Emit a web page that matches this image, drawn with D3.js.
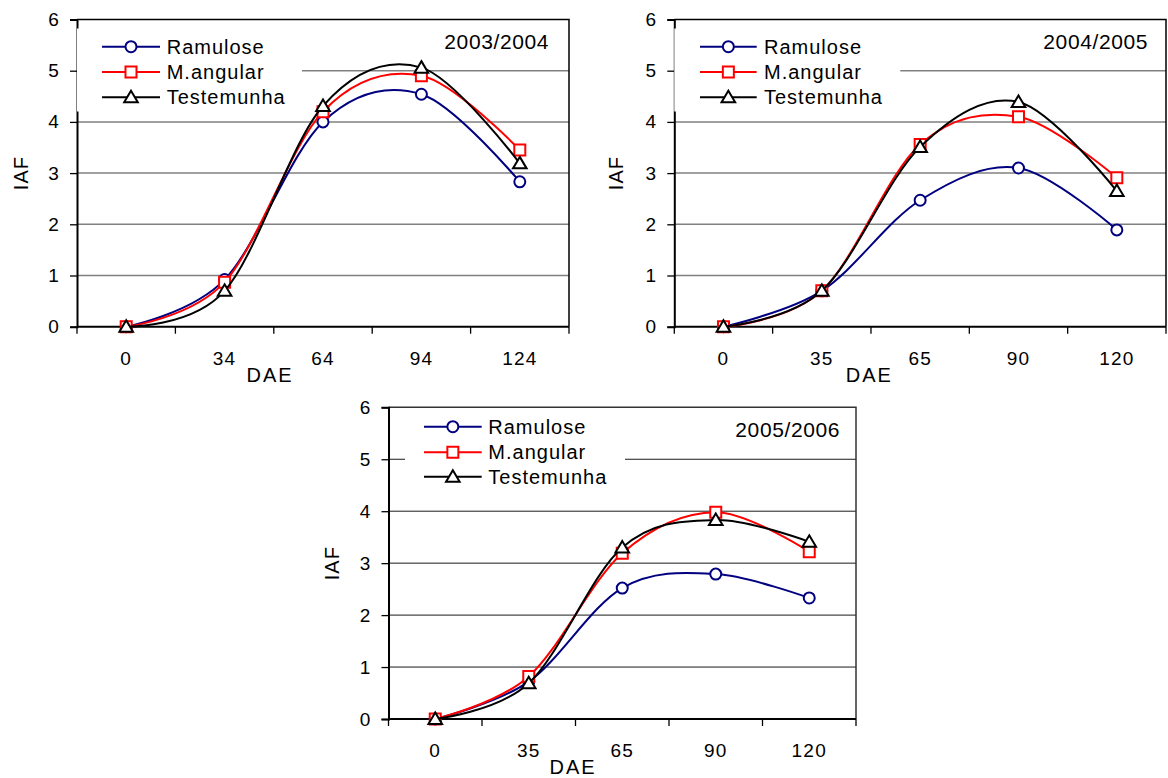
<!DOCTYPE html>
<html>
<head>
<meta charset="utf-8">
<script src="https://cdn.jsdelivr.net/npm/d3@7"></script>
<style>
  body { margin: 0; background: #fff; }
  svg { display: block; }
  text { font-family: "Liberation Sans", Arial, sans-serif; fill: #000; }
</style>
</head>
<body>
<svg id="chart" width="1168" height="778"></svg>
<script>
// Leaf area index (IAF) by days after emergence (DAE), three seasons
const seriesNames = ["Ramulose", "M.angular", "Testemunha"];
const yTicks = [0, 1, 2, 3, 4, 5, 6];

const dae2003 = ["0", "34", "64", "94", "124"];
const ramulose2003 = [0, 0.92, 4.0, 4.54, 2.83];
const mangular2003 = [0, 0.87, 4.2, 4.9, 3.45];
const testemunha2003 = [0, 0.7, 4.31, 5.06, 3.19];

const dae2004 = ["0", "35", "65", "90", "120"];
const ramulose2004 = [0, 0.7, 2.47, 3.1, 1.89];
const mangular2004 = [0, 0.7, 3.56, 4.1, 2.91];
const testemunha2004 = [0, 0.7, 3.51, 4.39, 2.65];

const dae2005 = ["0", "35", "65", "90", "120"];
const ramulose2005 = [0, 0.72, 2.52, 2.79, 2.33];
const mangular2005 = [0, 0.82, 3.19, 3.98, 3.22];
const testemunha2005 = [0, 0.69, 3.3, 3.83, 3.41];

const seriesStyle = [
  { color: "#000080", marker: "circle" },
  { color: "#ff0000", marker: "square" },
  { color: "#000000", marker: "triangle" }
];

const svg = d3.select("#chart");

function markerPath(type) {
  if (type === "circle") return d3.symbol(d3.symbolCircle, Math.PI * 5.5 * 5.5)();
  if (type === "square") return d3.symbol(d3.symbolSquare, 11 * 11)();
  return "M0,-6.5L6.8,5L-6.8,5Z";
}

function drawMarker(sel, type, color, px, py) {
  sel.append("path")
    .attr("d", markerPath(type))
    .attr("transform", `translate(${px},${py})`)
    .attr("fill", "#fff")
    .attr("stroke", color)
    .attr("stroke-width", 2);
}

function drawPanel(cfg) {
  const g = svg.append("g");
  const x = d3.scaleBand().domain(cfg.categories).range([cfg.left, cfg.right]);
  const y = d3.scaleLinear().domain([0, 6]).range([cfg.bottom, cfg.top]);
  const cx = c => x(c) + x.bandwidth() / 2;

  // horizontal gridlines
  g.selectAll("line.grid")
    .data(yTicks.filter(t => t > 0 && t < 6))
    .join("line")
    .attr("x1", cfg.left).attr("x2", cfg.right)
    .attr("y1", d => y(d)).attr("y2", d => y(d))
    .attr("stroke", cfg.gridColor)
    .attr("stroke-width", cfg.gridWidth);

  // plot frame (top and right)
  g.append("path")
    .attr("d", `M${cfg.left},${y(6)}H${cfg.right}V${cfg.bottom}`)
    .attr("fill", "none")
    .attr("stroke", cfg.frameColor)
    .attr("stroke-width", 1.5);

  // y axis
  const yAxis = g.append("g")
    .attr("transform", `translate(${cfg.left},0)`)
    .call(d3.axisLeft(y).tickValues(yTicks).tickSize(7).tickPadding(10).tickFormat(d3.format("d")));
  yAxis.select(".domain").attr("stroke", "#000").attr("stroke-width", 2);
  yAxis.selectAll(".tick line").attr("stroke", "#000").attr("stroke-width", 1.3);
  yAxis.selectAll(".tick text")
    .attr("font-size", 19).attr("letter-spacing", 1.2)
    .attr("font-family", "Liberation Sans, Arial, sans-serif")
    .attr("fill", "#000");

  // x axis: labels at category centres, tick marks at category boundaries
  const xAxis = g.append("g")
    .attr("transform", `translate(0,${cfg.bottom})`)
    .call(d3.axisBottom(x).tickSize(0).tickPadding(25));
  xAxis.select(".domain").remove();
  xAxis.selectAll(".tick text")
    .attr("font-size", 19).attr("letter-spacing", 1.2)
    .attr("font-family", "Liberation Sans, Arial, sans-serif")
    .attr("fill", "#000");
  const bounds = cfg.categories.map(c => x(c)).concat([x.range()[1]]);
  g.append("line")
    .attr("x1", cfg.left).attr("x2", cfg.right)
    .attr("y1", cfg.bottom).attr("y2", cfg.bottom)
    .attr("stroke", "#000").attr("stroke-width", 2);
  g.selectAll("line.xtick")
    .data(bounds)
    .join("line")
    .attr("x1", d => d).attr("x2", d => d)
    .attr("y1", cfg.bottom).attr("y2", cfg.bottom + 7)
    .attr("stroke", "#000").attr("stroke-width", 1.3);

  // axis titles
  g.append("text")
    .attr("transform", `translate(${cfg.left + cfg.iafDx},${(cfg.top + cfg.bottom) / 2}) rotate(-90)`)
    .attr("text-anchor", "middle").attr("dy", "0.35em")
    .attr("font-size", 20).attr("letter-spacing", 1)
    .text("IAF");
  g.append("text")
    .attr("x", cfg.left + cfg.daeDx).attr("y", cfg.bottom + cfg.daeDy)
    .attr("text-anchor", "middle").attr("dy", "0.35em")
    .attr("font-size", 20).attr("letter-spacing", 2)
    .text("DAE");

  // legend (white box over the gridlines)
  const lg = g.append("g");
  lg.append("rect")
    .attr("x", cfg.left + cfg.legend.boxX).attr("y", cfg.top + cfg.legend.boxY)
    .attr("width", cfg.legend.boxW).attr("height", cfg.legend.boxH)
    .attr("fill", "#fff");
  seriesNames.forEach((name, i) => {
    const ry = cfg.top + cfg.legend.rows[i];
    const st = seriesStyle[i];
    lg.append("line")
      .attr("x1", cfg.left + cfg.legend.lineX1).attr("x2", cfg.left + cfg.legend.lineX2)
      .attr("y1", ry).attr("y2", ry)
      .attr("stroke", st.color).attr("stroke-width", 2);
    drawMarker(lg, st.marker, st.color, cfg.left + (cfg.legend.lineX1 + cfg.legend.lineX2) / 2, ry);
    lg.append("text")
      .attr("x", cfg.left + cfg.legend.textX).attr("y", ry)
      .attr("dy", "0.35em")
      .attr("font-size", 20).attr("letter-spacing", 1)
      .text(name);
  });

  // season label
  g.append("text")
    .attr("x", cfg.right - cfg.yearDx).attr("y", cfg.top + 22)
    .attr("text-anchor", "end").attr("dy", "0.35em")
    .attr("font-size", 21).attr("letter-spacing", 0.6)
    .text(cfg.season);

  // smoothed series lines with markers
  const line = d3.line()
    .x(d => cx(d.cat))
    .y(d => y(d.v))
    .curve(d3.curveCardinal.tension(0));
  cfg.series.forEach((vals, i) => {
    const st = seriesStyle[i];
    const pts = vals.map((v, k) => ({ cat: cfg.categories[k], v }));
    g.append("path")
      .datum(pts)
      .attr("d", line)
      .attr("fill", "none")
      .attr("stroke", st.color)
      .attr("stroke-width", 2)
      .attr("stroke-linejoin", "round");
    pts.forEach(p => drawMarker(g, st.marker, st.color, cx(p.cat), y(p.v)));
  });
}

// lower panel first; upper row background sits over it
drawPanel({
  categories: dae2005,
  series: [ramulose2005, mangular2005, testemunha2005],
  season: "2005/2006",
  left: 388.5, right: 856, top: 407.3, bottom: 719,
  gridColor: "#1a1a1a", gridWidth: 1, frameColor: "#333",
  iafDx: -56.5, daeDx: 184.5, daeDy: 48,
  yearDx: 16,
  legend: { boxX: 16.5, boxY: 7, boxW: 220, boxH: 86,
            lineX1: 35.5, lineX2: 93.2, textX: 99.8, rows: [19.4, 44.9, 69.4] }
});

svg.append("rect")
  .attr("x", 0).attr("y", 0)
  .attr("width", 1168).attr("height", 401)
  .attr("fill", "#fff");

drawPanel({
  categories: dae2003,
  series: [ramulose2003, mangular2003, testemunha2003],
  season: "2003/2004",
  left: 77, right: 569, top: 19.5, bottom: 326.7,
  gridColor: "#808080", gridWidth: 1.5, frameColor: "#000",
  iafDx: -56.5, daeDx: 193, daeDy: 48.3,
  yearDx: 20,
  legend: { boxX: 0, boxY: 9, boxW: 225, boxH: 83,
            lineX1: 25, lineX2: 83, textX: 89.7, rows: [27.2, 52.5, 77.8] }
});

drawPanel({
  categories: dae2004,
  series: [ramulose2004, mangular2004, testemunha2004],
  season: "2004/2005",
  left: 674.3, right: 1166, top: 19.5, bottom: 326.7,
  gridColor: "#808080", gridWidth: 1.5, frameColor: "#000",
  iafDx: -58, daeDx: 195, daeDy: 48.3,
  yearDx: 18,
  legend: { boxX: 0, boxY: 9, boxW: 226, boxH: 83,
            lineX1: 25.7, lineX2: 82.4, textX: 89.7, rows: [27.2, 52.5, 77.8] }
});
</script>
</body>
</html>
